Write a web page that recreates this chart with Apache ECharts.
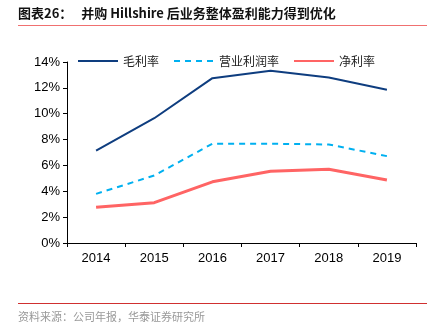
<!DOCTYPE html>
<html><head><meta charset="utf-8">
<script src="https://cdn.jsdelivr.net/npm/echarts@6/dist/echarts.min.js"></script>
<style>html,body{margin:0;padding:0;background:#fff}#c{width:442px;height:336px}</style>
</head><body><div id="c"></div>
<script>
const categories = ['2014','2015','2016','2017','2018','2019'];
const grossMargin = [7.14, 9.65, 12.75, 13.32, 12.8, 11.86];
const operatingMargin = [3.8, 5.22, 7.68, 7.68, 7.62, 6.72];
const netMargin = [2.76, 3.12, 4.73, 5.55, 5.7, 4.88];
const seriesNames = ['毛利率', '营业利润率', '净利率'];
const titleText = '图表26：   并购 Hillshire 后业务整体盈利能力得到优化';
const sourceText = '资料来源：公司年报，华泰证券研究所';

const chart = echarts.init(document.getElementById('c'));
const font = '"Liberation Sans", Arial, "Noto Sans CJK SC", sans-serif';
chart.setOption({
  animation: false,
  textStyle: { fontFamily: font },
  grid: { left: 67, right: 26, top: 62, bottom: 93, containLabel: false },
  legend: {
    top: 50, left: 72, itemWidth: 40, itemHeight: 12, itemGap: 14,
    itemStyle: { opacity: 0 },
    textStyle: { fontSize: 12, color: '#222', fontFamily: '"Noto Sans CJK SC", sans-serif' },
    data: seriesNames
  },
  xAxis: {
    type: 'category', data: categories, boundaryGap: true,
    axisLine: { lineStyle: { color: '#000', width: 1 } },
    axisTick: { show: true, alignWithLabel: false, length: 4, inside: false, lineStyle: { color: '#000' } },
    axisLabel: { color: '#000', fontSize: 13, margin: 9 }
  },
  yAxis: {
    type: 'value', min: 0, max: 14, interval: 2,
    axisLine: { show: true, lineStyle: { color: '#000' } },
    axisTick: { show: true, length: 4, lineStyle: { color: '#000' } },
    splitLine: { show: false },
    axisLabel: { color: '#000', fontSize: 13, margin: 7, formatter: v => v + '%' }
  },
  series: [
    { name: seriesNames[0], type: 'line', data: grossMargin, symbol: 'none',
      lineStyle: { color: '#0E3D7F', width: 2 }, itemStyle: { color: '#0E3D7F' } },
    { name: seriesNames[1], type: 'line', data: operatingMargin, symbol: 'none',
      lineStyle: { color: '#00B0F0', width: 2, type: [6, 5] }, itemStyle: { color: '#00B0F0' } },
    { name: seriesNames[2], type: 'line', data: netMargin, symbol: 'none',
      lineStyle: { color: '#FF6464', width: 3 }, itemStyle: { color: '#FF6464' } }
  ],
  graphic: [
    { type: 'text', left: 18, top: 7, style: { text: titleText, font: 'bold 13px "Noto Sans CJK SC", sans-serif', fill: '#111' } },
    { type: 'rect', shape: { x: 18, y: 25, width: 409, height: 1 }, style: { fill: '#F07070' } },
    { type: 'rect', shape: { x: 18, y: 303, width: 409, height: 1 }, style: { fill: '#D03030' } },
    { type: 'text', left: 18, top: 311, style: { text: sourceText, font: '11px "Noto Sans CJK SC", sans-serif', fill: '#999' } }
  ]
});
</script></body></html>
